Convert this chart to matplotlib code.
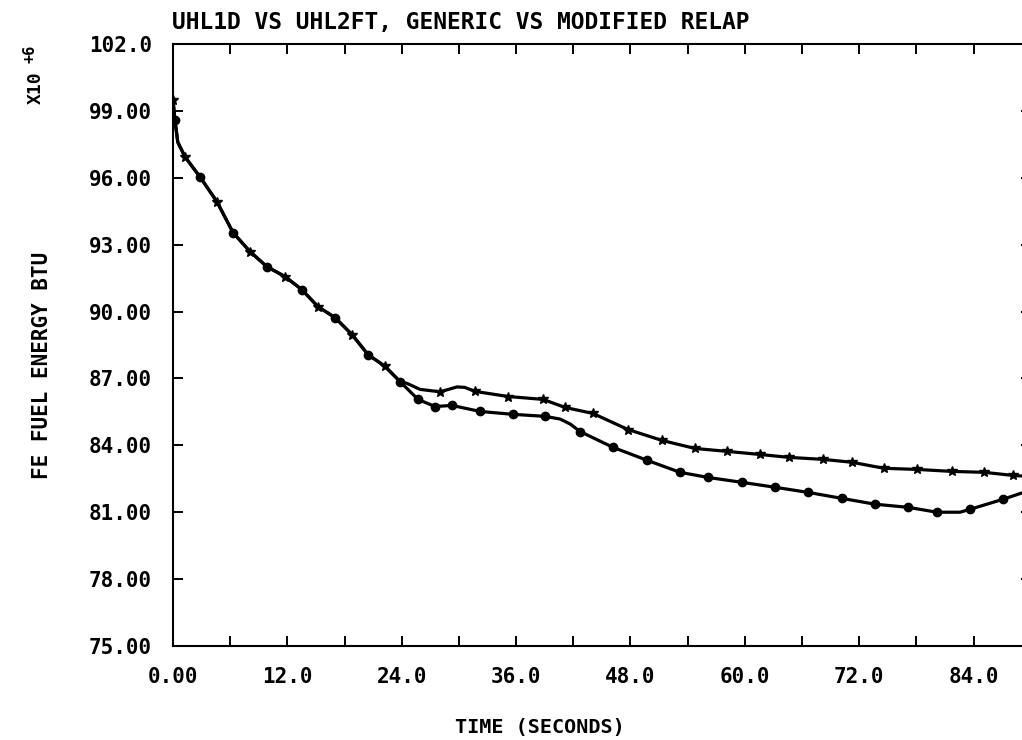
import matplotlib
matplotlib.use("Agg")
import matplotlib.pyplot as plt
from matplotlib.ticker import MultipleLocator, FixedLocator

# ---- data (energy in units of 1e6 BTU) ----
time_star = [0.0, 0.2, 0.5, 1.26, 2.83, 4.62, 6.30, 8.08, 9.86, 11.75, 13.53, 15.21,
             17.0, 18.78, 20.46, 22.25, 23.82, 24.55, 25.92, 28.02, 29.0, 29.8, 30.6,
             31.69, 35.15, 38.83, 41.13, 44.07, 46.0, 47.74, 51.31, 54.77, 58.13, 61.59,
             64.64, 68.21, 71.25, 74.61, 78.07, 81.74, 85.10, 88.14, 90.0]
fe_star = [99.5, 98.6, 97.6, 96.94, 96.04, 94.92, 93.54, 92.69, 92.01, 91.57, 90.98,
           90.22, 89.73, 88.97, 88.07, 87.54, 86.86, 86.78, 86.51, 86.40, 86.52, 86.62,
           86.60, 86.42, 86.19, 86.06, 85.70, 85.43, 85.05, 84.71, 84.22, 83.86, 83.73,
           83.59, 83.46, 83.37, 83.24, 82.97, 82.92, 82.83, 82.79, 82.65, 82.60]
star_marks = [0, 3, 5, 7, 9, 11, 13, 15, 19, 23, 24, 25, 26, 27, 29, 30, 31, 32, 33,
              34, 35, 36, 37, 38, 39, 40, 41]

time_circ = [0.0, 0.2, 0.5, 1.26, 2.83, 4.62, 6.30, 8.08, 9.86, 11.75, 13.53, 15.21,
             17.0, 18.78, 20.46, 22.25, 23.82, 25.71, 27.49, 29.28, 32.21, 35.68,
             39.03, 40.61, 41.70, 42.71, 46.17, 49.74, 53.20, 56.14, 59.71, 63.17,
             66.63, 70.20, 73.66, 77.12, 80.17, 82.58, 83.63, 87.09, 88.98, 90.0]
fe_circ = [99.5, 98.6, 97.6, 96.94, 96.04, 94.92, 93.54, 92.69, 92.01, 91.57, 90.98,
           90.22, 89.73, 88.97, 88.07, 87.54, 86.86, 86.06, 85.74, 85.79, 85.52, 85.39,
           85.30, 85.18, 84.95, 84.62, 83.91, 83.33, 82.79, 82.56, 82.34, 82.12,
           81.89, 81.62, 81.36, 81.22, 81.00, 81.00, 81.13, 81.58, 81.85, 81.95]
circ_marks = [1, 4, 6, 8, 10, 12, 14, 16, 17, 18, 19, 20, 21, 22, 25, 26, 27, 28, 29,
              30, 31, 32, 33, 34, 35, 36, 38, 39]

x_ticks = [0, 12, 24, 36, 48, 60, 72, 84]
x_labels = ["0.00", "12.0", "24.0", "36.0", "48.0", "60.0", "72.0", "84.0"]
y_ticks = [75, 78, 81, 84, 87, 90, 93, 96, 99, 102]
y_labels = ["75.00", "78.00", "81.00", "84.00", "87.00", "90.00", "93.00",
            "96.00", "99.00", "102.0"]

title = "UHL1D VS UHL2FT, GENERIC VS MODIFIED RELAP"
xlabel = "TIME (SECONDS)"
ylabel = "FE FUEL ENERGY BTU"

# ---- figure ----
W, H = 1022, 740
fig = plt.figure(figsize=(W / 100, H / 100), dpi=100)
ax = fig.add_axes([173 / W, 1 - 646 / H, 857.7 / W, 602 / H])

font = dict(family="DejaVu Sans Mono", weight="bold")

ax.plot(time_star, fe_star, color="black", lw=2.3, marker="*", ms=7.5,
        markevery=star_marks, solid_joinstyle="round")
ax.plot(time_circ, fe_circ, color="black", lw=2.3, marker="o", ms=6,
        markevery=circ_marks, solid_joinstyle="round")

ax.set_xlim(0, 90)
ax.set_ylim(75, 102)

ax.xaxis.set_major_locator(FixedLocator(x_ticks))
ax.xaxis.set_minor_locator(MultipleLocator(6))
ax.set_xticklabels(x_labels, **font, fontsize=15)
ax.yaxis.set_major_locator(FixedLocator(y_ticks))
ax.set_yticklabels(y_labels, **font, fontsize=15)

ax.tick_params(which="both", direction="in", length=7.2, width=1.4,
               top=True, right=True, color="black")
ax.tick_params(axis="x", which="major", pad=15)
ax.tick_params(axis="y", which="major", pad=15)
for s in ax.spines.values():
    s.set_linewidth(1.5)

fig.text(172 / W, 1 - 22 / H, title, ha="left", va="center", fontsize=16.5, **font)
fig.text(540 / W, 1 - 728 / H, xlabel, ha="center", va="center", fontsize=14.5, **font)
fig.text(42 / W, 1 - 365 / H, ylabel, ha="center", va="center", rotation=90,
         fontsize=15, **font)
fig.text(36 / W, 1 - 88 / H, "X10", ha="center", va="center", rotation=90,
         fontsize=13, **font)
fig.text(30 / W, 1 - 54 / H, "+6", ha="center", va="center", rotation=90,
         fontsize=11, **font)

fig.savefig("out.png", dpi=100)
